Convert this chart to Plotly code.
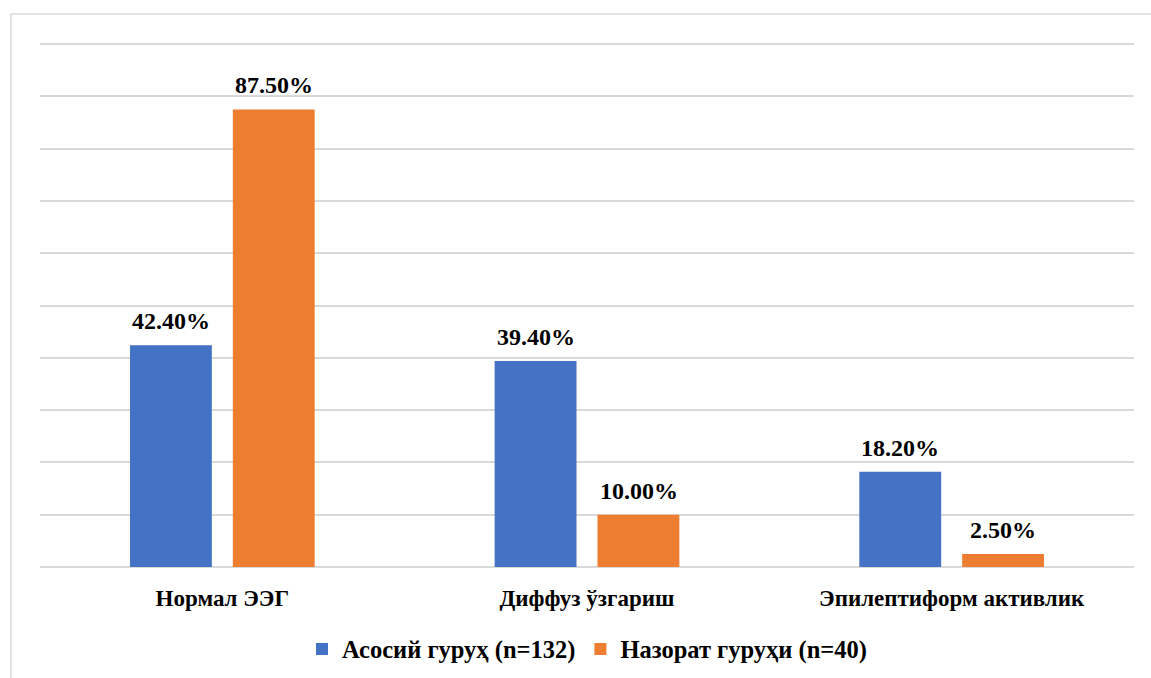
import plotly.graph_objects as go

categories = ["Нормал ЭЭГ", "Диффуз ўзгариш", "Эпилептиформ активлик"]
series_names = ["Асосий гуруҳ (n=132)", "Назорат гуруҳи (n=40)"]
main_group = [42.4, 39.4, 18.2]
control_group = [87.5, 10.0, 2.5]
colors = ["#4472C4", "#ED7D31"]

FONT = "Liberation Serif, Times New Roman, serif"

W, H = 1151, 678
L, R, T, B = 40, 17, 43, 111
pw, ph = W - L - R, H - T - B
slot_px = 51.5  # half of a trace slot within a category group

fig = go.Figure()
annotations = []
for i, (name, vals, col) in enumerate(zip(series_names, [main_group, control_group], colors)):
    fig.add_trace(go.Bar(
        x=categories, y=vals, name=name, marker=dict(color=col, line=dict(width=0)),
    ))
    for c, v in zip(categories, vals):
        annotations.append(dict(
            x=c, y=v, xref="x", yref="y", text=f"{v:.2f}%", showarrow=False,
            yanchor="bottom", xanchor="center", yshift=9,
            xshift=(-1 if i == 0 else 1) * slot_px,
            font=dict(family=FONT, size=24, color="black", weight="bold"),
        ))

fig.update_layout(
    width=W, height=H, margin=dict(l=L, r=R, t=T, b=B, pad=0, autoexpand=False),
    paper_bgcolor="white", plot_bgcolor="white",
    barmode="group", bargap=0.436, bargroupgap=0.204,
    font=dict(family=FONT, size=22, color="black", weight="bold"),
    showlegend=True,
    legend=dict(orientation="h", x=0.5, xanchor="center", y=(T + ph - 649) / ph, yanchor="middle",
                font=dict(family=FONT, size=24.5, color="black", weight="bold"),
                itemwidth=30, tracegroupgap=0),
    xaxis=dict(showgrid=False, showline=False, ticks="", ticklabelstandoff=15, automargin=False,
               tickfont=dict(family=FONT, size=23, color="black", weight="bold")),
    yaxis=dict(range=[0, 100.2], dtick=10, showticklabels=False, showgrid=True, automargin=False,
               gridcolor="#d9d9d9", gridwidth=1.5, zeroline=True, zerolinecolor="#d9d9d9",
               zerolinewidth=1.5, showline=False, ticks=""),
    annotations=annotations,
    shapes=[dict(type="rect", xref="paper", yref="paper",
                 x0=(11 - L) / pw, x1=(W + 5 - L) / pw,
                 y0=-(B + 5) / ph, y1=1 + (T - 14) / ph,
                 line=dict(color="#d9d9d9", width=1.5), fillcolor="rgba(0,0,0,0)", layer="below")],
)

fig.write_html("out.html")
